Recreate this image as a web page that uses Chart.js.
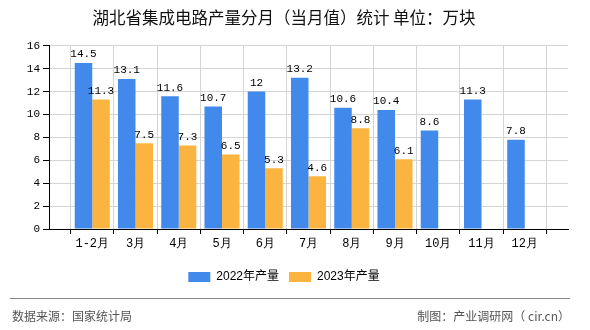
<!DOCTYPE html>
<html>
<head>
<meta charset="utf-8">
<script src="https://cdn.jsdelivr.net/npm/chart.js@4"></script>
<style>
  html, body { margin: 0; padding: 0; background: #fff; }
  #wrap { width: 590px; height: 330px; position: relative; }
</style>
</head>
<body>
<div id="wrap"><canvas id="c" width="590" height="330"></canvas></div>
<script>
const months = ['1-2月', '3月', '4月', '5月', '6月', '7月', '8月', '9月', '10月', '11月', '12月']
const output2022 = [14.5, 13.1, 11.6, 10.7, 12, 13.2, 10.6, 10.4, 8.6, 11.3, 7.8]
const output2023 = [11.3, 7.5, 7.3, 6.5, 5.3, 4.6, 8.8, 6.1, null, null, null]
const yTicks = [0, 2, 4, 6, 8, 10, 12, 14, 16]

const cjk = '"Noto Sans CJK SC", sans-serif'
const mono = '"Liberation Mono", "DejaVu Sans Mono", monospace'

// empty slot at each end, the reference puts labels on slot edges
const pad = arr => [null, ...arr, null]

const valueLabels = {
  id: 'valueLabels',
  afterDatasetsDraw(chart) {
    const ctx = chart.ctx
    ctx.save()
    ctx.font = '11px ' + mono
    ctx.fillStyle = '#000'
    ctx.textAlign = 'center'
    ctx.textBaseline = 'bottom'
    chart.data.datasets.forEach((ds, i) => {
      chart.getDatasetMeta(i).data.forEach((bar, j) => {
        const v = ds.data[j]
        if (v == null) return
        ctx.fillText(String(v), bar.x, bar.y - 3)
      })
    })
    ctx.restore()
  }
}

const footer = {
  id: 'footer',
  afterDraw(chart) {
    const ctx = chart.ctx
    ctx.save()
    ctx.strokeStyle = '#888'
    ctx.lineWidth = 1
    ctx.beginPath()
    ctx.moveTo(10, 298.5)
    ctx.lineTo(570, 298.5)
    ctx.stroke()
    ctx.font = '12px ' + cjk
    ctx.fillStyle = '#555'
    ctx.textBaseline = 'middle'
    ctx.textAlign = 'left'
    ctx.fillText('数据来源：国家统计局', 12, 316)
    ctx.textAlign = 'right'
    ctx.fillText('制图：产业调研网（ cir.cn）', 570, 316)
    ctx.restore()
  }
}

new Chart(document.getElementById('c'), {
  type: 'bar',
  data: {
    labels: ['', ...months, ''],
    datasets: [
      {
        label: '2022年产量',
        data: pad(output2022),
        backgroundColor: '#418AEC',
        categoryPercentage: 0.81,
        barPercentage: 1.0,
      },
      {
        label: '2023年产量',
        data: pad(output2023),
        backgroundColor: '#FCB441',
        categoryPercentage: 0.81,
        barPercentage: 1.0,
      },
    ],
  },
  options: {
    responsive: false,
    animation: false,
    layout: { padding: { left: 0, right: 22, top: 0, bottom: 37 } },
    plugins: {
      title: {
        display: true,
        text: '湖北省集成电路产量分月（当月值）统计 单位：万块',
        color: '#111',
        font: { family: cjk, size: 16.5, weight: 'normal' },
        padding: { top: 8, bottom: 18 },
      },
      legend: {
        position: 'bottom',
        labels: {
          boxWidth: 22,
          boxHeight: 10,
          color: '#000',
          padding: 10,
          font: { family: '"Liberation Sans", ' + cjk, size: 12 },
        },
      },
      tooltip: { enabled: false },
    },
    scales: {
      x: {
        offset: false,
        grid: { color: '#d4d4d4', tickColor: '#000', tickLength: 5 },
        border: { color: '#000' },
        ticks: {
          color: '#000',
          font: { family: mono, size: 12 },
          maxRotation: 0,
          autoSkip: false,
          padding: 3,
        },
        afterFit: s => { s.height = 32 },
      },
      y: {
        min: 0,
        max: 16,
        afterBuildTicks: s => { s.ticks = yTicks.map(v => ({ value: v })) },
        grid: { color: '#d4d4d4', tickColor: '#000', tickLength: 6 },
        border: { color: '#000' },
        ticks: {
          color: '#000',
          font: { family: mono, size: 11 },
          padding: 3,
        },
        afterFit: s => { s.width = 49 },
      },
    },
  },
  plugins: [valueLabels, footer],
})
</script>
</body>
</html>
